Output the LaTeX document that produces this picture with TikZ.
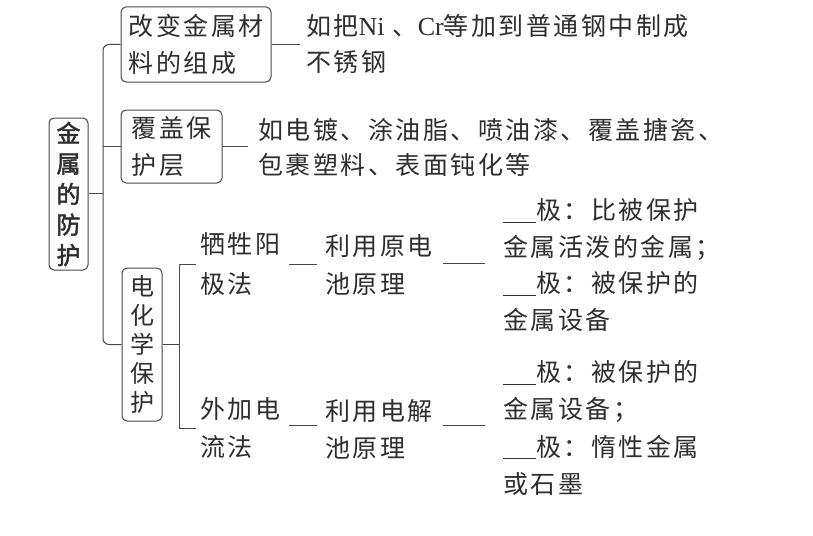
\documentclass[tikz,border=0pt]{standalone}
\usepackage{fontspec}
\newfontfamily\cjk[LetterSpace=10]{Noto Sans CJK SC}
\newfontfamily\cjkv{Noto Sans CJK SC}
\newfontfamily\cjkbold[FakeBold=2]{Noto Sans CJK SC}
\newfontfamily\lat{Liberation Serif}
\definecolor{ink}{HTML}{2E2E2E}
\definecolor{linecol}{HTML}{474747}
\newcommand{\blank}{\rule[-3pt]{33pt}{0.9pt}}
\begin{document}
\begin{tikzpicture}[x=1pt,y=-1pt,
  box/.style={draw=linecol, line width=1pt, rounded corners=5pt, inner sep=0pt, text=ink},
  txt/.style={anchor=west, inner sep=0pt, align=left, text=ink},
  link/.style={draw=linecol, line width=1pt}]
\useasboundingbox[fill=white] (0,0) rectangle (813,535);

% main boxes
\node[box, minimum width=39pt, minimum height=152pt, align=center,
  font=\cjkbold\fontsize{24}{30.5}\selectfont] (root) at (68.5,194) {金\\属\\的\\防\\护};
\node[box, minimum width=150pt, minimum height=75pt, align=left,
  font=\cjk\fontsize{25}{37}\selectfont] (b1) at (196,44.5) {改变金属材\\料的组成};
\node[box, minimum width=101pt, minimum height=73pt, align=left,
  font=\cjk\fontsize{25}{37}\selectfont] (b2) at (171.5,146.5) {覆盖保\\护层};
\node[box, minimum width=40pt, minimum height=153pt, align=center,
  font=\cjkv\fontsize{24}{29}\selectfont] (b3) at (142,344.5) {电\\化\\学\\保\\护};

% texts
\node[txt, font=\cjk\fontsize{25}{36}\selectfont] (t1) at (306,44)
  {如把{\lat\fontsize{26}{36}\selectfont Ni} 、{\lat\fontsize{26}{36}\selectfont Cr}等加到普通钢中制成\\不锈钢};
\node[txt, font=\cjk\fontsize{25}{35}\selectfont] (t2) at (258,147.5)
  {如电镀、涂油脂、喷油漆、覆盖搪瓷、\\包裹塑料、表面钝化等};
\node[txt, font=\cjk\fontsize{25}{40}\selectfont] (g1) at (200,264.5) {牺牲阳\\极法};
\node[txt, font=\cjk\fontsize{25}{38}\selectfont] (p1) at (325,265) {利用原电\\池原理};
\node[txt, font=\cjk\fontsize{25}{36.7}\selectfont] (r1) at (503,265)
  {\blank 极：比被保护\\金属活泼的金属；\\\blank 极：被保护的\\金属设备};
\node[txt, font=\cjk\fontsize{25}{38}\selectfont] (g2) at (200,428) {外加电\\流法};
\node[txt, font=\cjk\fontsize{25}{37}\selectfont] (p2) at (325,429) {利用电解\\池原理};
\node[txt, font=\cjk\fontsize{25}{37.3}\selectfont] (r2) at (503,428)
  {\blank 极：被保护的\\金属设备；\\\blank 极：惰性金属\\或石墨};

% trunk
\coordinate (tr) at (103,0);
\coordinate (br) at (179,344.5);
\draw[link, rounded corners=6pt] (b1.west) -- (b1.west -| tr) -- (b3.west -| tr) -- (b3.west);
\draw[link] (b2.west) -- (b2.west -| tr);
\draw[link] (root.east |- 0,193) -- (tr |- 0,193);

% branches
\draw[link, shorten >=6pt] (b1.east) -- (t1.west |- b1.east);
\draw[link, shorten >=10pt] (b2.east) -- (t2.west |- b2.east);
\draw[link] (b3.east) -- (br);
\draw[link] ([xshift=-4pt]g1.west) -- (g1.west -| br) -- (g2.west -| br) -- ([xshift=-4pt]g2.west);

\coordinate (ga) at (289,264);
\coordinate (gb) at (289,425);
\draw[link, shorten >=8pt] (ga) -- (p1.west |- ga);
\draw[link, shorten <=10pt, shorten >=18pt] (p1.east |- 0,263) -- (r1.west |- 0,263);
\draw[link, shorten >=8pt] (gb) -- (p2.west |- gb);
\draw[link, shorten <=10pt, shorten >=18pt] (p2.east |- gb) -- (r2.west |- gb);
\end{tikzpicture}
\end{document}
